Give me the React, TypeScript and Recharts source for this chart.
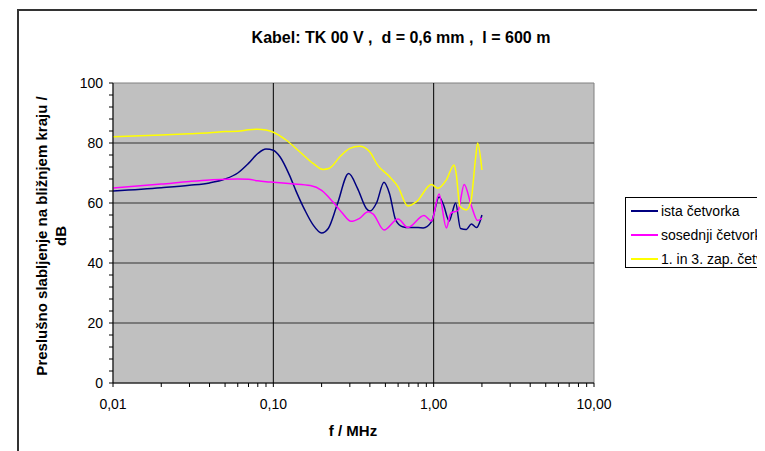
import React from "react";
import { LineChart, Line, XAxis, YAxis, ReferenceLine, ReferenceArea } from "recharts";

// frequency (MHz) and crosstalk attenuation (dB)
const istaF = [0.01, 0.02, 0.03, 0.04, 0.05, 0.06, 0.07, 0.08, 0.09, 0.1, 0.11, 0.126, 0.139, 0.157, 0.177, 0.2, 0.22, 0.25, 0.295, 0.335, 0.38, 0.4, 0.44, 0.49, 0.53, 0.58, 0.64, 0.7, 0.8, 0.86, 0.97, 1.08, 1.15, 1.25, 1.3, 1.37, 1.47, 1.6, 1.72, 1.85, 1.95, 2.0];
const istaV = [64, 65.1, 65.9, 66.7, 68, 70, 73.2, 76.5, 78, 77.6, 75.4, 69.3, 63.8, 57.7, 52.7, 50, 51.5, 59.4, 69.8, 64.9, 58.2, 57.3, 60, 66.9, 63.2, 54.3, 52.1, 51.8, 51.8, 51.7, 53.8, 62, 59.5, 54, 56.5, 60, 51.5, 51.2, 53, 51.8, 54, 56];

const sosedF = [0.01, 0.02, 0.03, 0.04, 0.05, 0.06, 0.07, 0.08, 0.09, 0.1, 0.13, 0.17, 0.2, 0.235, 0.27, 0.305, 0.345, 0.39, 0.42, 0.49, 0.6, 0.69, 0.87, 0.97, 1.08, 1.2, 1.28, 1.42, 1.55, 1.72, 1.88, 2.0];
const sosedV = [65, 66.3, 67.2, 67.7, 67.9, 68, 67.9, 67.4, 67.1, 66.9, 66.4, 65.8, 64.2, 60.4, 56.6, 53.9, 54.9, 57.1, 56.3, 51, 54.7, 51.8, 55.8, 54, 63, 51.7, 56.6, 57.5, 66.2, 59, 54.2, 55];

const zapF = [0.01, 0.02, 0.03, 0.04, 0.05, 0.06, 0.07, 0.08, 0.09, 0.1, 0.12, 0.146, 0.177, 0.204, 0.224, 0.26, 0.3, 0.345, 0.4, 0.446, 0.53, 0.6, 0.69, 0.78, 0.97, 1.06, 1.2, 1.34, 1.38, 1.46, 1.6, 1.71, 1.82, 1.88, 2.0];
const zapV = [82.1, 82.7, 83.1, 83.4, 83.8, 83.9, 84.4, 84.6, 84.3, 83.6, 81, 77.1, 73.2, 71.2, 71.6, 75.4, 78.2, 78.9, 77, 72.7, 68.8, 65.4, 59, 60.4, 66.2, 64.9, 67.7, 72.7, 70, 58.8, 57.7, 60.8, 74.3, 80, 71];

const xTicks = [
  0.01, 0.02, 0.03, 0.04, 0.05, 0.06, 0.07, 0.08, 0.09,
  0.1, 0.2, 0.3, 0.4, 0.5, 0.6, 0.7, 0.8, 0.9,
  1, 2, 3, 4, 5, 6, 7, 8, 9, 10,
];
const xLabelled = [0.01, 0.1, 1, 10];
const yTicks = [0, 4, 8, 12, 16, 20, 24, 28, 32, 36, 40, 44, 48, 52, 56, 60, 64, 68, 72, 76, 80, 84, 88, 92, 96, 100];
const yGrid = [20, 40, 60, 80];
const xGrid = [0.1, 1];

const series = [
  { name: "ista četvorka", f: istaF, v: istaV, color: "#000080" },
  { name: "sosednji četvorka", f: sosedF, v: sosedV, color: "#FF00FF" },
  { name: "1. in 3. zap. četvorka", f: zapF, v: zapV, color: "#FFFF00" },
];

const font = "'Liberation Sans', Arial, sans-serif";

const toRows = (f: number[], v: number[]) => f.map((x, i) => ({ f: x, v: v[i] }));

export default function App() {
  return (
    <div style={{ position: "relative", width: 757, height: 443, overflow: "hidden", background: "#fff", fontFamily: font }}>
      <div style={{ position: "absolute", left: 9, top: 1, width: 900, height: 600, border: "2px solid #333" }} />
      <LineChart
        width={757}
        height={443}
        margin={{ top: 75, right: 171, bottom: 28, left: 45 }}
        style={{ position: "absolute", left: 0, top: 0 }}
      >
        <ReferenceArea x1={0.01} x2={10} y1={0} y2={100} fill="#C0C0C0" fillOpacity={1} stroke="#808080" strokeWidth={1} ifOverflow="visible" />
        {yGrid.map((y) => (
          <ReferenceLine key={"y" + y} y={y} stroke="#333" strokeWidth={1} />
        ))}
        {xGrid.map((x) => (
          <ReferenceLine key={"x" + x} x={x} stroke="#000" strokeWidth={1} />
        ))}
        <XAxis
          dataKey="f"
          type="number"
          scale="log"
          domain={[0.01, 10]}
          ticks={xTicks}
          interval={0}
          allowDataOverflow
          height={40}
          stroke="#000"
          tickSize={4}
          tickMargin={12}
          tick={{ fill: "#000", fontSize: 14, fontFamily: font }}
          tickFormatter={(x: number) => (xLabelled.some((d) => Math.abs(d - x) < 1e-9) ? x.toFixed(2).replace(".", ",") : "")}
        />
        <YAxis
          type="number"
          domain={[0, 100]}
          ticks={yTicks}
          interval={0}
          width={60}
          stroke="#000"
          tickSize={4}
          tickMargin={6}
          tick={{ fill: "#000", fontSize: 14, fontFamily: font }}
          tickFormatter={(y: number) => (y % 20 === 0 ? String(y) : "")}
        />
        {series.map((s) => (
          <Line
            key={s.name}
            data={toRows(s.f, s.v)}
            dataKey="v"
            type="monotone"
            stroke={s.color}
            strokeWidth={1.5}
            dot={false}
            isAnimationActive={false}
          />
        ))}
      </LineChart>
      <svg width={757} height={443} style={{ position: "absolute", left: 0, top: 0, pointerEvents: "none" }}>
        <text x={393} y={35} textAnchor="middle" fontSize={16} fontWeight="bold" fontFamily={font} style={{ whiteSpace: "pre" }}>
          {"Kabel: TK 00 V ,  d = 0,6 mm ,  l = 600 m"}
        </text>
        <text x={345} y={428} textAnchor="middle" fontSize={15} fontWeight="bold" fontFamily={font}>
          f / MHz
        </text>
        <g transform="translate(39, 228) rotate(-90)">
          <text x={0} y={0} textAnchor="middle" fontSize={15} fontWeight="bold" fontFamily={font}>
            Preslušno slabljenje na bližnjem kraju /
          </text>
          <text x={0} y={19} textAnchor="middle" fontSize={15} fontWeight="bold" fontFamily={font}>
            dB
          </text>
        </g>
      </svg>
      <div style={{ position: "absolute", left: 617, top: 189, width: 300, height: 69, border: "1px solid #000", background: "#fff" }}>
        {series.map((s, i) => (
          <div key={s.name} style={{ position: "absolute", left: 5, top: 3 + i * 24, height: 20, display: "flex", alignItems: "center", whiteSpace: "nowrap", fontSize: 14 }}>
            <span style={{ display: "inline-block", width: 27, height: 2, background: s.color, marginRight: 3 }} />
            {s.name}
          </div>
        ))}
      </div>
    </div>
  );
}
